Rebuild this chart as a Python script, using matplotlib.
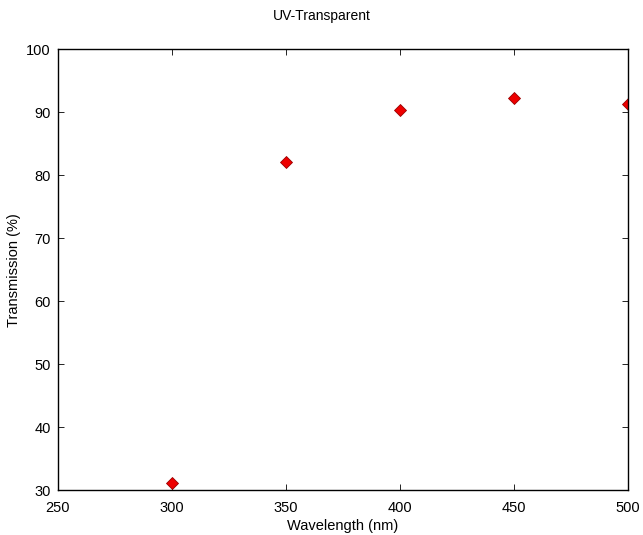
import matplotlib
matplotlib.use('Agg')
import matplotlib.pyplot as plt

plt.rcParams['font.family'] = ['Liberation Sans', 'DejaVu Sans']
plt.rcParams['font.size'] = 10.5

wavelength = [300, 350, 400, 450, 500]
transmission = [31.1, 82.1, 90.3, 92.2, 91.3]

fig = plt.figure(figsize=(6.43, 5.35), dpi=100)
ax = fig.add_axes([0.090, 0.084, 0.887, 0.824])
ax.plot(wavelength, transmission, linestyle='none', marker='D', markersize=6.5,
        markerfacecolor='#ee0000', markeredgecolor='#990000', markeredgewidth=0.6)
ax.set_xlim(250, 500)
ax.set_ylim(30, 100)
ax.set_xticks([250, 300, 350, 400, 450, 500])
ax.set_yticks([30, 40, 50, 60, 70, 80, 90, 100])
ax.tick_params(direction='in', length=4, width=0.6, top=True, right=True, labelsize=10.5)
ax.tick_params(axis='x', pad=8)
ax.tick_params(axis='y', pad=5)
for s in ax.spines.values():
    s.set_linewidth(1.0)
ax.set_xlabel('Wavelength (nm)', fontsize=10.5, labelpad=3)
ax.set_ylabel('Transmission (%)', fontsize=10.5, labelpad=4)
fig.text(0.5, 0.97, 'UV-Transparent', ha='center', va='center', fontsize=10)

plt.savefig('out.png', dpi=100)
